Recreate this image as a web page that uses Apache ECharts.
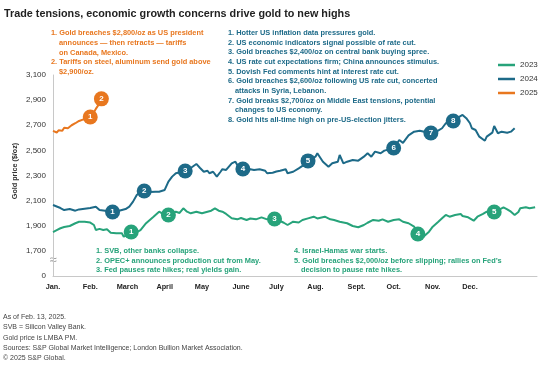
<!DOCTYPE html>
<html>
<head>
<meta charset="utf-8">
<script src="https://cdn.jsdelivr.net/npm/echarts@6/dist/echarts.min.js"></script>
<style>
html,body{margin:0;padding:0;background:#fff;}
#c{width:555px;height:369px;}
</style>
</head>
<body>
<div id="c"></div>
<script>
// ---- data (trading-day index, LBMA PM price $/oz) ----
const months = ['Jan.','Feb.','March','April','May','June','July','Aug.','Sept.','Oct.','Nov.','Dec.'];
const monthTicks = [0,20,40,60,80,101,120,141,163,183,204,224];
const yTicks = [1500,1700,1900,2100,2300,2500,2700,2900,3100];

const gold2023 = [[0,1850],[2,1865],[4,1880],[6,1890],[7,1905],[9,1898],[12,1920],[14,1932],[15,1922],[17,1932],[20,1925],[22,1906],[23,1866],[25,1875],[27,1866],[29,1872],[31,1845],[34,1840],[37,1840],[38,1813],[40,1826],[42,1840],[45,1850],[47,1866],[50,1920],[54,1972],[57,2012],[60,1986],[62,1986],[64,2002],[66,2012],[68,2002],[70,2039],[72,2012],[74,1999],[75,2005],[77,2012],[80,1999],[83,2012],[85,2020],[87,2039],[89,2020],[91,2012],[93,1994],[96,1959],[99,1951],[101,1962],[104,1946],[106,1958],[109,1951],[112,1967],[115,1951],[118,1954],[120,1956],[122,1938],[124,1924],[126,1906],[129,1932],[132,1926],[134,1946],[137,1959],[140,1972],[142,1958],[143,1967],[146,1972],[149,1951],[151,1946],[154,1932],[158,1920],[161,1898],[164,1888],[167,1906],[169,1924],[172,1946],[175,1940],[177,1951],[180,1932],[183,1946],[186,1951],[188,1932],[191,1920],[192,1920],[194,1893],[196,1834],[199,1813],[202,1853],[204,1893],[207,1932],[209,1959],[211,1986],[213,1972],[216,1986],[219,1994],[220,1978],[223,1967],[226,1940],[228,1972],[229,1978],[231,1994],[233,2012],[235,2010],[237,2012],[240,2031],[242,2047],[244,2031],[246,2012],[248,1986],[250,2010],[251,2039],[254,2047],[256,2039],[259,2047]];

const gold2024 = [[0,2065],[1,2052],[4,2041],[6,2025],[9,2033],[12,2020],[14,2030],[17,2036],[20,2041],[23,2052],[25,2025],[28,2020],[32,2007],[35,2017],[39,2033],[41,2052],[43,2092],[45,2145],[47,2169],[49,2179],[52,2169],[55,2171],[57,2171],[60,2185],[62,2251],[64,2291],[66,2318],[69,2328],[71,2338],[74,2360],[75,2370],[77,2392],[79,2360],[81,2330],[83,2338],[84,2318],[86,2330],[88,2291],[90,2330],[91,2350],[93,2344],[96,2397],[98,2410],[99,2384],[101,2352],[103,2348],[106,2350],[108,2344],[111,2350],[114,2338],[115,2318],[118,2322],[120,2332],[122,2338],[125,2350],[126,2318],[129,2330],[132,2357],[134,2376],[137,2416],[141,2450],[142,2477],[145,2410],[148,2370],[150,2397],[153,2410],[154,2463],[156,2397],[158,2410],[161,2424],[164,2418],[167,2450],[169,2477],[171,2450],[173,2490],[176,2477],[178,2498],[183,2517],[186,2583],[188,2560],[191,2620],[194,2649],[197,2657],[200,2647],[203,2641],[206,2649],[209,2676],[211,2716],[215,2736],[218,2764],[220,2782],[222,2756],[224,2716],[225,2676],[227,2662],[229,2609],[232,2577],[233,2609],[236,2641],[237,2694],[239,2636],[241,2649],[244,2641],[246,2649],[248,2676]];

const gold2025 = [[0,2655],[1,2648],[2,2642],[3,2660],[4,2665],[5,2656],[6,2680],[7,2692],[8,2676],[9,2686],[10,2700],[11,2692],[12,2716],[13,2722],[14,2734],[15,2742],[16,2745],[17,2750],[18,2756],[19,2760],[20,2766],[21,2782],[22,2805],[23,2830],[24,2852],[25,2872],[26,2910]];

// numbered event markers: [trading-day index, price, label]
const events2023 = [[42,1850,'1'],[62,1986,'2'],[119,1954,'3'],[196,1834,'4'],[237,2010,'5']];
const events2024 = [[32,2010,'1'],[49,2177,'2'],[71,2336,'3'],[102,2352,'4'],[137,2416,'5'],[183,2519,'6'],[203,2638,'7'],[215,2734,'8']];
const events2025 = [[20,2766,'1'],[26,2910,'2']];

const notes2025 = [['1.',['Gold breaches $2,800/oz as US president','announces \u2014 then retracts \u2014 tariffs','on Canada, Mexico.']],['2.',['Tariffs on steel, aluminum send gold above','$2,900/oz.']]];
const notes2024 = [['1.',['Hotter US inflation data pressures gold.']],['2.',['US economic indicators signal possible of rate cut.']],['3.',['Gold breaches $2,400/oz on central bank buying spree.']],['4.',['US rate cut expectations firm; China announces stimulus.']],['5.',['Dovish Fed comments hint at interest rate cut.']],['6.',['Gold breaches $2,600/oz following US rate cut, concerted','attacks in Syria, Lebanon.']],['7.',['Gold breaks $2,700/oz on Middle East tensions, potential','changes to US economy.']],['8.',['Gold hits all-time high on pre-US-election jitters.']]];
const notes2023a = [['1.',['SVB, other banks collapse.']],['2.',['OPEC+ announces production cut from May.']],['3.',['Fed pauses rate hikes; real yields gain.']]];
const notes2023b = [['4.',['Israel-Hamas war starts.']],['5.',['Gold breaches $2,000/oz before slipping; rallies on Fed\u2019s','decision to pause rate hikes.']]];
const footnotes = ['As of Feb. 13, 2025.','SVB = Silicon Valley Bank.','Gold price is LMBA PM.','Sources: S&P Global Market Intelligence; London Bullion Market Association.','\u00a9 2025 S&P Global.'];

// ---- styles ----
const C23 = '#27a37a', C24 = '#1d6a88', C25 = '#e8771f';
const FONT = '"Liberation Sans", Arial, sans-serif';

function txt(x, y, text, opt) {
  return {type:'text', x:x, y:y, silent:true, style:Object.assign({text:text, fontFamily:FONT, fontSize:7.4, fontWeight:'bold', fill:'#333', verticalAlign:'middle', align:'left'}, opt||{})};
}
function noteBlock(items, x, y0, pitch, indent, color) {
  const out = []; let y = y0;
  items.forEach(function(it){
    it[1].forEach(function(line, i){
      if (i === 0) out.push(txt(x, y, it[0] + ' ' + line, {fill:color}));
      else out.push(txt(x + indent, y, line, {fill:color}));
      y += pitch;
    });
  });
  return out;
}

const graphics = [];
graphics.push(txt(4, 14, 'Trade tensions, economic growth concerns drive gold to new highs', {fontSize:10.8, fill:'#222'}));
noteBlock(notes2025, 51, 33, 9.8, 8, C25).forEach(g=>graphics.push(g));
noteBlock(notes2024, 228, 33, 9.65, 7, C24).forEach(g=>graphics.push(g));
noteBlock(notes2023a, 96, 251, 9.6, 7, C23).forEach(g=>graphics.push(g));
noteBlock(notes2023b, 294, 251, 9.6, 7, C23).forEach(g=>graphics.push(g));
footnotes.forEach(function(f, i){ graphics.push(txt(3, 317 + i*10.3, f, {fontSize:7, fontWeight:'normal', fill:'#444'})); });
graphics.push({type:'text', x:15, y:171, rotation:Math.PI/2, silent:true, style:{text:'Gold price ($/oz)', fontFamily:FONT, fontSize:7.2, fontWeight:'bold', fill:'#333', align:'center', verticalAlign:'middle'}});
graphics.push({type:'text', x:53, y:260, silent:true, style:{text:'\u2248', fontFamily:FONT, fontSize:13, fill:'#999', align:'center', verticalAlign:'middle', backgroundColor:'#fff', padding:[0,0]}});

function lineSeries(name, data, color) {
  return {name:name, type:'line', data:data, showSymbol:false, symbol:'none', lineStyle:{width:2, color:color}, itemStyle:{color:color}, z:2};
}
function eventSeries(name, data, color) {
  return {name:name, type:'scatter', data:data, symbol:'circle', symbolSize:15, itemStyle:{color:color, opacity:1}, z:4,
    label:{show:true, position:'inside', formatter:function(p){return p.data[2];}, color:'#fff', fontSize:8, fontWeight:'bold', fontFamily:FONT}};
}

const chart = echarts.init(document.getElementById('c'), null, {renderer:'canvas'});
chart.setOption({
  animation:false,
  backgroundColor:'#fff',
  grid:{left:53, right:18, top:75, bottom:93, containLabel:false},
  legend:{data:['2023','2024','2025'], orient:'vertical', left:493, top:56, itemWidth:17, itemHeight:2.5, itemGap:6, icon:'rect',
    textStyle:{fontFamily:FONT, fontSize:8, color:'#333'}, selectedMode:false},
  xAxis:{type:'value', min:0, max:260,
    axisLine:{show:true, lineStyle:{color:'#c8c8c8', width:1}}, axisTick:{show:false}, splitLine:{show:false},
    axisLabel:{customValues:monthTicks, formatter:function(v){const i = monthTicks.indexOf(v); return i>=0 ? months[i] : '';},
      fontFamily:FONT, fontSize:7.3, fontWeight:'bold', color:'#222', margin:7}},
  yAxis:{type:'value', min:yTicks[0], max:yTicks[yTicks.length-1], interval:200,
    axisLine:{show:true, lineStyle:{color:'#c8c8c8', width:1}}, axisTick:{show:false}, splitLine:{show:false},
    axisLabel:{formatter:function(v){return v===yTicks[0] ? '0' : v.toLocaleString('en-US');}, fontFamily:FONT, fontSize:8, color:'#333', margin:7}},
  series:[
    lineSeries('2023', gold2023, C23),
    lineSeries('2024', gold2024, C24),
    lineSeries('2025', gold2025, C25),
    eventSeries('e2023', events2023, C23),
    eventSeries('e2024', events2024, C24),
    eventSeries('e2025', events2025, C25)
  ],
  graphic:graphics
});
</script>
</body>
</html>
